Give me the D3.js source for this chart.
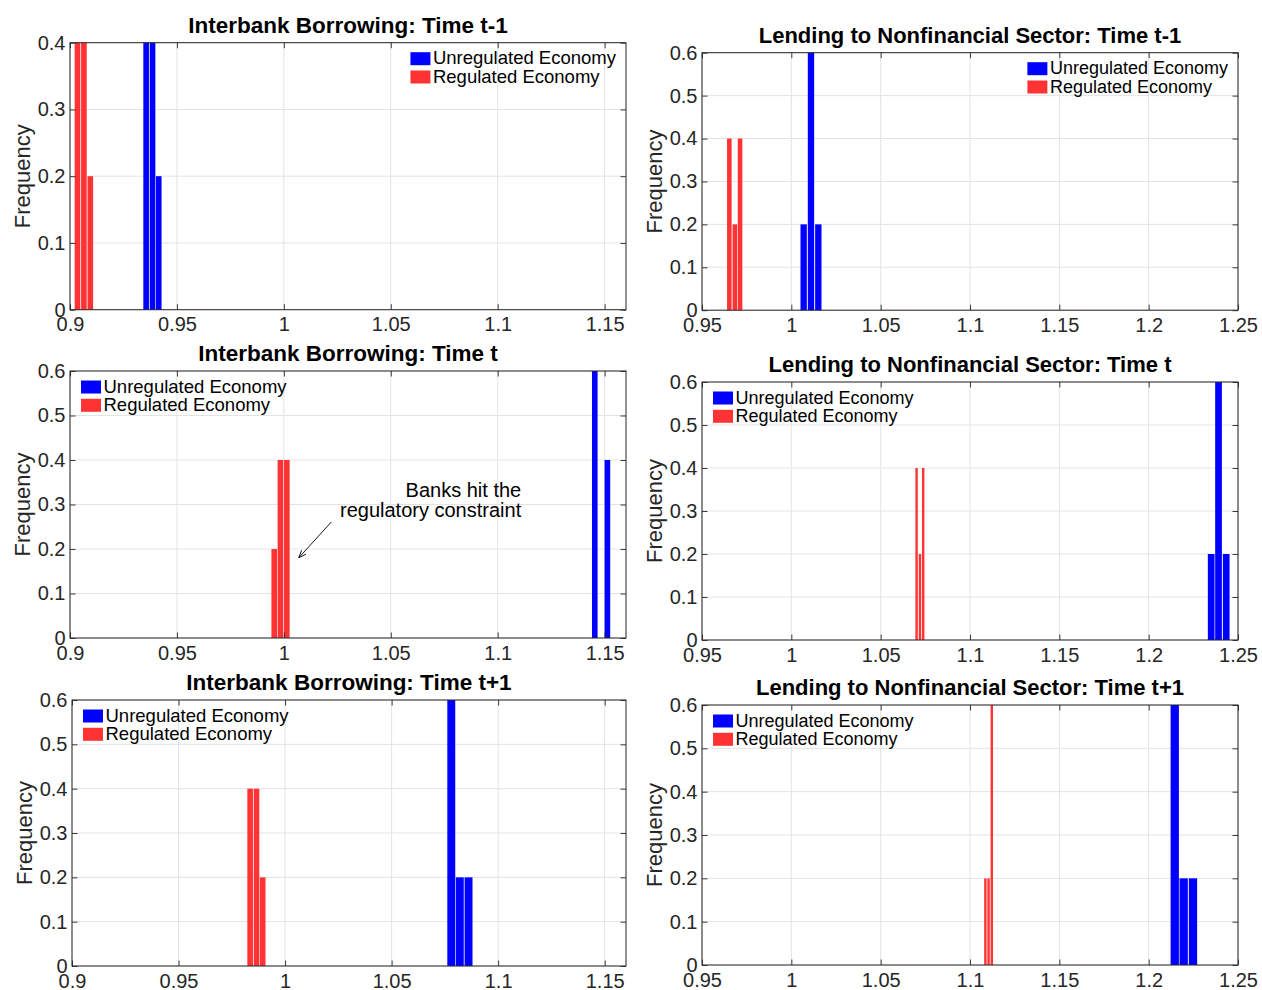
<!DOCTYPE html>
<html>
<head>
<meta charset="utf-8">
<script src="https://cdn.jsdelivr.net/npm/d3@7"></script>
<style>
  body { margin: 0; background: #fff; }
  svg { font-family: "Liberation Sans", Arial, Helvetica, sans-serif; }
</style>
</head>
<body>
<svg id="chart" width="1262" height="990"></svg>
<script>
// ---- values ----
const titles = [
  "Interbank Borrowing: Time t-1",
  "Lending to Nonfinancial Sector: Time t-1",
  "Interbank Borrowing: Time t",
  "Lending to Nonfinancial Sector: Time t",
  "Interbank Borrowing: Time t+1",
  "Lending to Nonfinancial Sector: Time t+1"
];
const seriesNames = ["Unregulated Economy", "Regulated Economy"];
const yLabel = "Frequency";

// x ranges: interbank panels vs lending panels
const xDomains = [[0.9, 1.16], [0.95, 1.25], [0.9, 1.16], [0.95, 1.25], [0.9, 1.16], [0.95, 1.25]];
const yMax = [0.4, 0.6, 0.6, 0.6, 0.6, 0.6];

const ibTicks = [0.9, 0.95, 1, 1.05, 1.1, 1.15];
const ibTickLabels = ["0.9", "0.95", "1", "1.05", "1.1", "1.15"];
const lendTicks = [0.95, 1, 1.05, 1.1, 1.15, 1.2, 1.25];
const lendTickLabels = ["0.95", "1", "1.05", "1.1", "1.15", "1.2", "1.25"];
const yTicks = [0, 0.1, 0.2, 0.3, 0.4, 0.5, 0.6];
const yTickLabels = ["0", "0.1", "0.2", "0.3", "0.4", "0.5", "0.6"];

// histogram bin centres, frequencies and bin widths per panel
const unregCenters = [
  [0.9356, 0.9386, 0.9415],
  [1.0069, 1.0110, 1.0151],
  [1.1454, 1.1484, 1.1513],
  [1.2350, 1.2391, 1.2434],
  [1.0780, 1.0820, 1.0861],
  [1.2146, 1.2196, 1.2248]
];
const unregFreq = [
  [0.4, 0.4, 0.2],
  [0.2, 0.6, 0.2],
  [0.6, 0.0, 0.4],
  [0.2, 0.6, 0.2],
  [0.6, 0.2, 0.2],
  [0.6, 0.2, 0.2]
];
const unregBinWidth = [0.003, 0.004, 0.003, 0.0042, 0.0041, 0.0051];

const regCenters = [
  [0.9035, 0.9065, 0.9095],
  [0.9653, 0.9684, 0.9713],
  [0.9955, 0.9984, 1.0014],
  [1.0701, 1.0720, 1.0738],
  [0.9836, 0.9866, 0.9895],
  [1.1086, 1.1104, 1.1122]
];
const regFreq = [
  [0.4, 0.4, 0.2],
  [0.4, 0.2, 0.4],
  [0.2, 0.4, 0.4],
  [0.4, 0.2, 0.4],
  [0.4, 0.4, 0.2],
  [0.2, 0.2, 0.6]
];
const regBinWidth = [0.003, 0.003, 0.003, 0.0018, 0.003, 0.0018];

// annotation in panel 3 (data coordinates)
const noteLines = ["Banks hit the", "regulatory constraint"];
const noteAt = [1.111, 0.317];
const noteLineStep = 0.045;
const arrowFrom = [1.0222, 0.2607];
const arrowTo = [1.007, 0.1804];

// ---- layout ----
const layout = [
  {left: 70,  top: 42.7, width: 556, height: 267,   legend: "ne", titleSize: 22.5, legendSize: 18.5},
  {left: 702, top: 52.7, width: 536, height: 257.5, legend: "ne", titleSize: 22,   legendSize: 18},
  {left: 70,  top: 371,  width: 556, height: 267,   legend: "nw", titleSize: 22.5, legendSize: 18.5},
  {left: 702, top: 382,  width: 536, height: 258,   legend: "nw", titleSize: 22,   legendSize: 18},
  {left: 72,  top: 700,  width: 554, height: 266,   legend: "nw", titleSize: 22.5, legendSize: 18.5},
  {left: 702, top: 705,  width: 536, height: 260,   legend: "nw", titleSize: 22,   legendSize: 18}
];
const colors = ["#0000ff", "#ff3333"];
const axisColor = "#262626";
const gridColor = "#e3e3e3";
const tickLen = 5.5;

const svg = d3.select("#chart");

layout.forEach(function(L, i) {
  const lending = i % 2 === 1;
  const xt = lending ? lendTicks : ibTicks;
  const xtl = lending ? lendTickLabels : ibTickLabels;
  const yt = yTicks.filter(v => v <= yMax[i] + 1e-9);

  const g = svg.append("g")
      .attr("transform", `translate(${L.left}, ${L.top})`);

  const x = d3.scaleLinear().domain(xDomains[i]).range([0, L.width]);
  const y = d3.scaleLinear().domain([0, yMax[i]]).range([L.height, 0]);

  // grid
  g.append("g").selectAll("line").data(xt).join("line")
      .attr("x1", d => x(d)).attr("x2", d => x(d))
      .attr("y1", 0).attr("y2", L.height)
      .attr("stroke", gridColor).attr("stroke-width", 1);
  g.append("g").selectAll("line").data(yt).join("line")
      .attr("x1", 0).attr("x2", L.width)
      .attr("y1", d => y(d)).attr("y2", d => y(d))
      .attr("stroke", gridColor).attr("stroke-width", 1);

  // bars, one histogram per economy
  const series = [
    {c: unregCenters[i], f: unregFreq[i], w: unregBinWidth[i], color: colors[0]},
    {c: regCenters[i], f: regFreq[i], w: regBinWidth[i], color: colors[1]}
  ];
  series.forEach(function(s) {
    const bins = s.c.map((c, k) => ({x0: c - s.w / 2, x1: c + s.w / 2, f: s.f[k]}))
        .filter(b => b.f > 0);
    g.append("g").selectAll("rect").data(bins).join("rect")
        .attr("x", d => x(d.x0) + 0.4)
        .attr("y", d => y(d.f))
        .attr("width", d => Math.max(0.5, x(d.x1) - x(d.x0) - 0.8))
        .attr("height", d => y(0) - y(d.f))
        .attr("fill", s.color);
  });

  // axes, ticks pointing inward on all four sides
  const fmtX = (d) => xtl[xt.indexOf(d)];
  const fmtY = (d) => yTickLabels[yTicks.indexOf(d)];

  const xb = g.append("g")
      .attr("transform", `translate(0, ${L.height})`)
      .call(d3.axisBottom(x).tickValues(xt).tickFormat(fmtX)
          .tickSize(-tickLen).tickSizeOuter(0).tickPadding(7.5));
  const yl = g.append("g")
      .call(d3.axisLeft(y).tickValues(yt).tickFormat(fmtY)
          .tickSize(-tickLen).tickSizeOuter(0).tickPadding(4.5));
  g.append("g")
      .call(d3.axisTop(x).tickValues(xt).tickFormat("")
          .tickSize(-tickLen).tickSizeOuter(0));
  g.append("g")
      .attr("transform", `translate(${L.width}, 0)`)
      .call(d3.axisRight(y).tickValues(yt).tickFormat("")
          .tickSize(-tickLen).tickSizeOuter(0));

  g.selectAll(".domain").remove();
  g.selectAll(".tick line").attr("stroke", axisColor).attr("stroke-width", 0.9);
  [xb, yl].forEach(a => a.selectAll("text")
      .attr("fill", axisColor)
      .style("font-size", "20px")
      .style("font-family", "'Liberation Sans', Arial, Helvetica, sans-serif"));

  g.append("rect")
      .attr("width", L.width).attr("height", L.height)
      .attr("fill", "none").attr("stroke", axisColor).attr("stroke-width", 1);

  // y label
  g.append("text")
      .attr("transform", "rotate(-90)")
      .attr("x", -L.height / 2)
      .attr("y", -40.5)
      .attr("text-anchor", "middle")
      .attr("fill", axisColor)
      .style("font-size", "22px")
      .text(yLabel);

  // title
  g.append("text")
      .attr("x", L.width / 2)
      .attr("y", -10)
      .attr("text-anchor", "middle")
      .attr("fill", "#000")
      .style("font-size", L.titleSize + "px")
      .style("font-weight", "bold")
      .text(titles[i]);

  // legend (no frame)
  const leg = g.append("g");
  const rowH = 18.3;
  const items = leg.selectAll("g").data(seriesNames).join("g")
      .attr("transform", (d, k) => `translate(0, ${k * rowH})`);
  items.append("rect")
      .attr("width", 20).attr("height", 13)
      .attr("fill", (d, k) => colors[k]);
  const labels = items.append("text")
      .attr("x", 22.5).attr("y", 12)
      .attr("fill", "#000")
      .style("font-size", L.legendSize + "px")
      .text(d => d);
  const textW = d3.max(labels.nodes(), n => n.getComputedTextLength());
  const legX = L.legend === "ne" ? L.width - 10 - 22.5 - textW : 11;
  leg.attr("transform", `translate(${legX}, 9.5)`);

  // annotation in the time-t interbank panel
  if (i === 2) {
    g.append("g").selectAll("text").data(noteLines).join("text")
        .attr("x", x(noteAt[0]))
        .attr("y", (d, k) => y(noteAt[1] - k * noteLineStep))
        .attr("text-anchor", "end")
        .attr("fill", "#000")
        .style("font-size", "20px")
        .text(d => d);

    const x1 = x(arrowFrom[0]), y1 = y(arrowFrom[1]);
    const x2 = x(arrowTo[0]), y2 = y(arrowTo[1]);
    g.append("line")
        .attr("x1", x1).attr("y1", y1).attr("x2", x2).attr("y2", y2)
        .attr("stroke", "#000").attr("stroke-width", 0.9);
    const ang = Math.atan2(y2 - y1, x2 - x1);
    const head = 8, spread = 0.38;
    const p1 = [x2 - head * Math.cos(ang - spread), y2 - head * Math.sin(ang - spread)];
    const p2 = [x2 - head * Math.cos(ang + spread), y2 - head * Math.sin(ang + spread)];
    g.append("path")
        .attr("d", `M${p1[0]},${p1[1]}L${x2},${y2}L${p2[0]},${p2[1]}`)
        .attr("fill", "none").attr("stroke", "#000").attr("stroke-width", 0.9);
  }
});
</script>
</body>
</html>
